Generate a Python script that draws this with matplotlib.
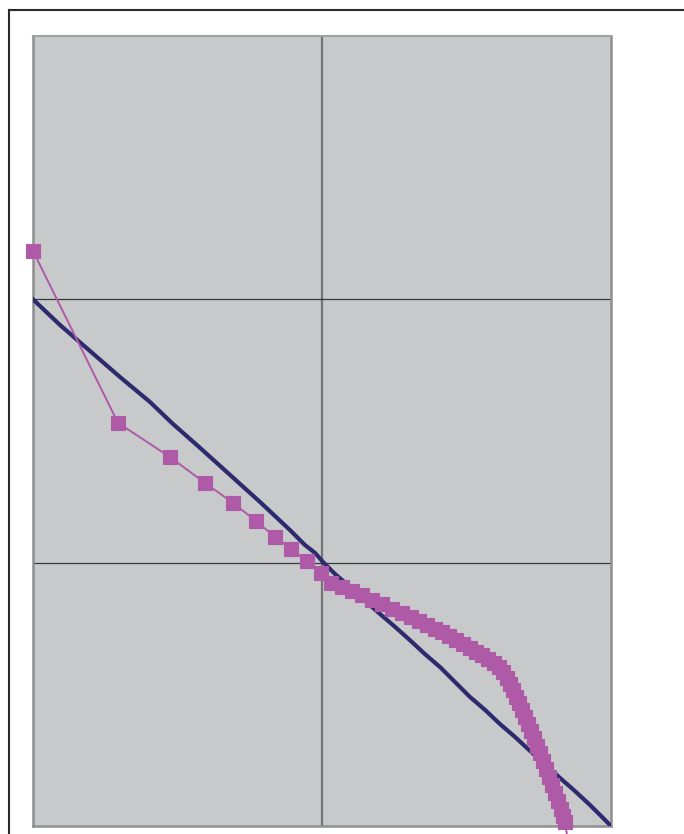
import matplotlib
matplotlib.use('Agg')
import matplotlib.pyplot as plt
from matplotlib.lines import Line2D

# fitted (theoretical) line
line_x = [0.0, 0.093, 0.197, 0.301, 0.405, 0.484, 0.578, 0.682, 0.785, 0.889,
          0.941, 0.976, 1.003, 1.045, 1.097, 1.149, 1.201, 1.253, 1.304, 1.356,
          1.408, 1.460, 1.512, 1.564, 1.616, 1.668, 1.720, 1.772, 1.824, 1.875,
          1.927, 1.962, 2.0]
line_y = [2.0, 1.903, 1.804, 1.705, 1.610, 1.527, 1.436, 1.333, 1.231, 1.124,
          1.067, 1.037, 1.003, 0.957, 0.908, 0.855, 0.805, 0.756, 0.706, 0.653,
          0.604, 0.547, 0.490, 0.441, 0.387, 0.338, 0.285, 0.235, 0.182, 0.133,
          0.080, 0.042, 0.0]

# observed values
obs_x = [0.0, 0.294, 0.474, 0.595, 0.692, 0.772, 0.837, 0.893, 0.948, 0.997,
         1.031, 1.069, 1.104, 1.138, 1.173, 1.208, 1.242, 1.277, 1.308, 1.336,
         1.363, 1.391, 1.415, 1.439, 1.464, 1.488, 1.512, 1.533, 1.554, 1.574,
         1.595, 1.612, 1.626, 1.640, 1.651, 1.661, 1.671, 1.682, 1.692, 1.702,
         1.713, 1.723, 1.734, 1.744, 1.754, 1.765, 1.775, 1.785, 1.796, 1.806,
         1.817, 1.827, 1.834, 1.841, 1.858]
obs_y = [2.184, 1.531, 1.401, 1.303, 1.227, 1.158, 1.098, 1.052, 1.006, 0.961,
         0.923, 0.908, 0.893, 0.877, 0.858, 0.843, 0.824, 0.809, 0.794, 0.779,
         0.763, 0.748, 0.737, 0.722, 0.706, 0.691, 0.676, 0.661, 0.649, 0.634,
         0.619, 0.604, 0.585, 0.562, 0.539, 0.517, 0.490, 0.467, 0.441, 0.414,
         0.387, 0.361, 0.334, 0.304, 0.277, 0.247, 0.216, 0.186, 0.156, 0.125,
         0.095, 0.065, 0.038, 0.015, -0.110]

fig = plt.figure(figsize=(6.84, 8.34), dpi=100)
ax = fig.add_axes([33 / 684, 8 / 834, 578 / 684, 790 / 834])
ax.set_facecolor('#c8c9cb')

ax.set_xlim(0, 2)
ax.set_ylim(0, 3)
ax.set_xticks([1])
ax.set_yticks([1, 2])
ax.tick_params(length=0, labelleft=False, labelbottom=False)
ax.grid(axis='y', color='#383838', lw=0.9)
ax.grid(axis='x', color='#747476', lw=1.6)
ax.set_axisbelow(True)

for side in ['left', 'right', 'bottom']:
    ax.spines[side].set_color('#8e8e90')
    ax.spines[side].set_linewidth(1.8)
ax.spines['top'].set_color('#a2a2a4')
ax.spines['top'].set_linewidth(1.5)

ax.plot(line_x, line_y, color='#2e2a6e', lw=3.0, zorder=3)
ax.plot(obs_x, obs_y, color='#ae5aa7', lw=1.4, marker='s', ms=9.4,
        mec='#ae5aa7', mfc='#ae5aa7', mew=0.8, zorder=4, clip_on=False)

# outer chart frame
fig.add_artist(Line2D([8.5 / 684, 8.5 / 684], [0, 1 - 10 / 834],
                      transform=fig.transFigure, color='#2a2a2a', lw=1.5))
fig.add_artist(Line2D([8.5 / 684, 1], [1 - 10 / 834, 1 - 10 / 834],
                      transform=fig.transFigure, color='#2a2a2a', lw=1.5))

fig.savefig('out.png', dpi=100)
